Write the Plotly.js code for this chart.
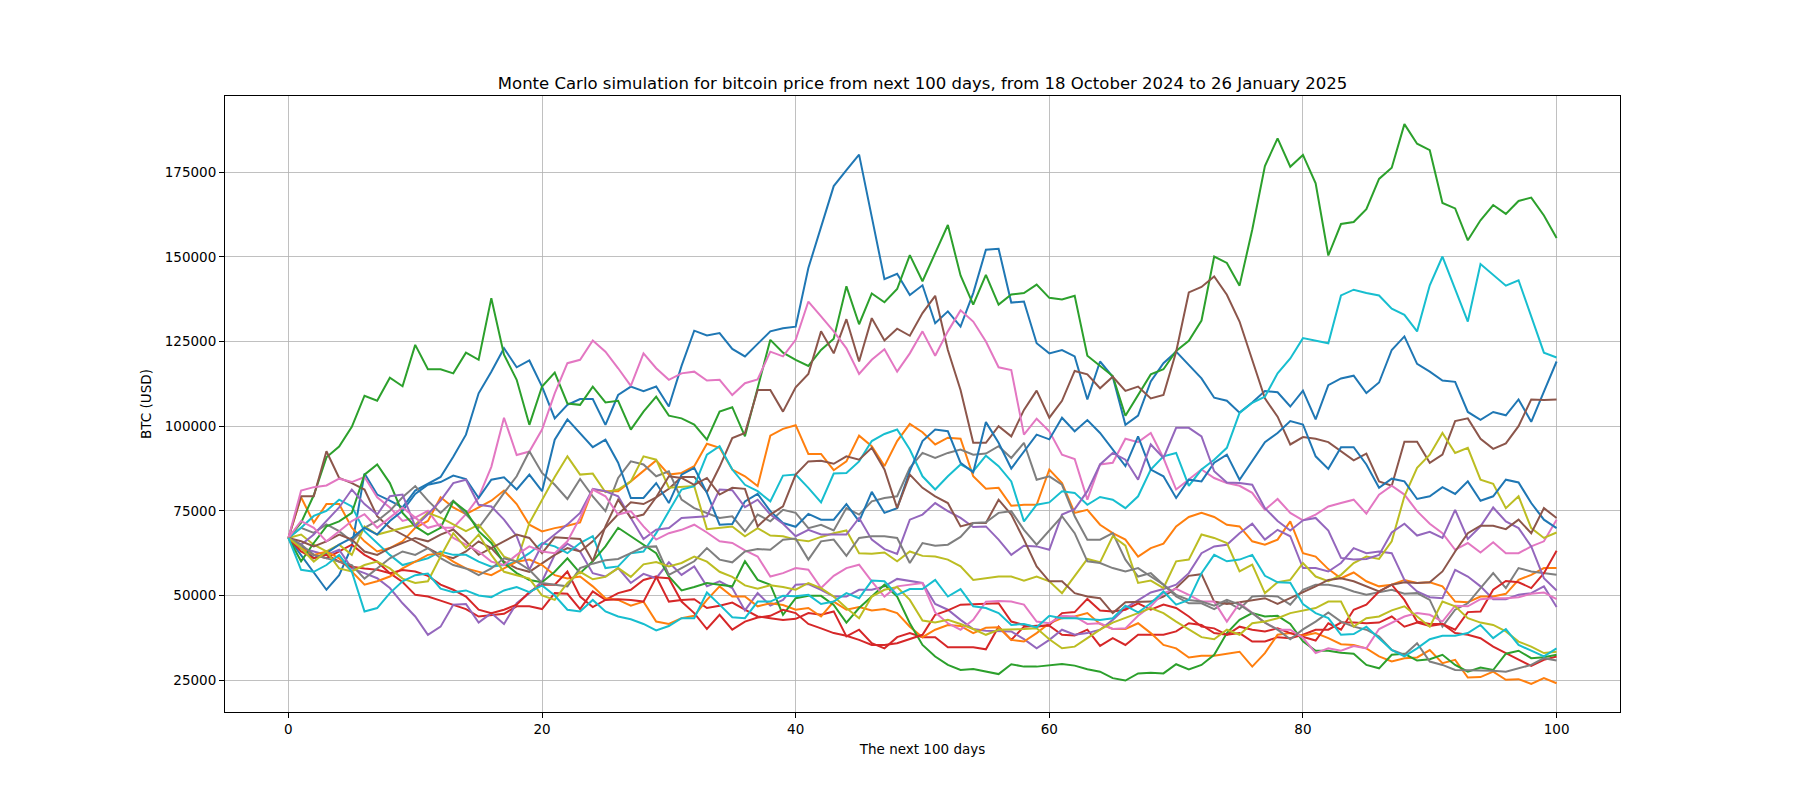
<!DOCTYPE html>
<html>
<head>
<meta charset="utf-8">
<script src="https://cdn.plot.ly/plotly-3.0.1.min.js"></script>
<style>html,body{margin:0;padding:0;background:#fff;}#chart{width:1800px;height:800px;}</style>
</head>
<body>
<div id="chart"></div>
<script>
// Days 0..100
const days = Array.from({length: 101}, (_, i) => i);

// Simulated price paths (USD)
const blue1 = [67000,62000,57000,51700,56000,64500,86000,79800,78000,76000,81000,83000,85000,91000,97500,
109700,116100,123000,117400,119400,111700,
102300,106300,108000,108000,100400,109200,111700,110300,111700,105800,117800,128200,126800,127500,122800,120600,124300,128000,128900,129400,
146700,158500,170900,175600,180200,161800,143400,145000,138700,141600,130400,133900,129400,139300,152100,152400,136500,136800,124500,121500,
122500,120600,107900,119100,114600,100400,103100,113200,118600,122000,118100,114100,108400,107500,104000,107000,110400,110000,105800,110500,
102000,112100,114100,114900,109800,112900,122500,126500,118400,116100,113500,113100,104200,101900,104200,103200,107900,101300,110200,119100];

const orange1 = [67000,79000,71500,77000,77000,70000,66000,63000,64000,66000,70000,72000,79000,76000,74000,76000,78000,81000,77000,70900,68900,
69900,70600,71600,81300,80800,80800,83700,86700,89900,85700,86200,88200,94800,93600,87200,85200,82300,97200,99200,100300,
91800,91800,87000,89600,97200,94100,88200,95600,100700,98200,94600,96600,96300,85200,81500,81800,76500,76800,76800,87200,
83200,74400,75300,70900,68400,66500,61500,64000,65300,70400,73200,74400,73200,70900,70400,66000,65000,66500,71900,62500,
61500,57800,55100,56800,54200,52700,53200,54600,53700,53900,52700,48200,48000,49700,49700,50500,54600,56100,58100,58100];

const green1 = [67000,71500,79600,90800,94000,99800,109000,107500,114300,111800,124000,116800,116800,115600,121700,119600,137800,121100,113700,100400,111700,
115800,106700,106300,111700,107000,107500,99000,104300,108700,103100,102300,100500,96000,104300,105600,97000,111000,125500,121700,119600,
117800,122500,125800,141300,130100,139200,136600,140500,150500,142800,151100,159400,144500,135900,144700,135900,138900,139300,141800,137900,
137400,138500,120800,117800,114800,103100,109200,115300,116800,122200,125200,131200,150100,148200,141500,158000,176800,185000,176600,180100,
171700,150400,159700,160300,164100,173000,176300,189200,183400,181500,165900,164300,154900,160800,165300,162700,166500,167500,162200,155600];

const red1 = [67000,64000,62000,61000,63000,65000,62000,60000,56600,54000,50200,49700,48500,47300,46000,43800,44300,44600,46800,46800,46000,
50700,50500,46000,51200,48700,50700,51700,54600,55600,48200,48700,48900,46300,47000,47900,45800,43800,43300,42800,43100,
44800,44300,45300,37900,39900,35900,34400,37700,38900,37700,37700,34700,34700,34700,34100,40800,36900,40800,41100,41100,
38400,38200,39900,35100,37400,35400,38400,38400,38400,39400,41800,41300,38900,38400,38900,36400,36400,37700,37400,38400,
39900,39900,42000,42000,41800,42000,43800,40800,42000,41000,41600,38900,38400,37400,34900,33000,31000,29200,31000,32000];

const purple1 = [67000,64000,63000,62000,63500,58000,56600,55100,52200,47700,43800,38400,40800,47300,47500,42000,44800,41600,47700,50700,54200,
62000,65300,63000,56600,55600,58100,53700,56400,55100,59800,56100,58600,52700,54200,52200,45600,50700,47000,48700,53200,
53400,51700,49700,49700,51700,51700,52700,54900,54200,53700,47500,45800,42800,40100,39600,39400,39400,37100,34400,36900,
39900,38400,38900,39900,42800,46300,48700,50900,51900,53200,56600,62500,64500,65000,68400,71200,66500,69400,67500,58100,
58100,57100,59600,64000,62500,63000,62500,54600,51200,49500,49200,57600,55600,52700,48900,48900,50200,50700,52700,46600];

const brown1 = [67000,79300,79300,92600,84700,83200,81300,73400,70000,68000,66000,64000,62000,61000,63000,66000,64000,60000,58000,57000,59500,
62000,64000,63000,66000,70000,74000,77500,77000,79000,81500,85000,85000,80500,88000,96500,98000,110700,110700,104300,111500,
115400,128000,121500,131600,119100,131900,125300,128800,126700,133400,138500,122500,110700,95100,95100,100000,97000,104800,110500,102500,
107500,116300,115300,111200,114600,110400,111700,108200,109200,122000,139500,141100,144200,138800,130900,119600,108200,102800,94600,96800,
96300,95300,92600,89900,91900,83700,82400,95400,95400,89200,91600,101500,102300,96300,93300,94900,100000,107900,107700,107900];

const pink1 = [67000,81000,82000,82500,84500,83500,85000,79000,76000,72000,73000,75000,70000,70000,74000,79000,88000,102500,91500,92500,99000,
109700,118600,119600,125300,122000,117100,111900,121500,117100,113700,115600,116100,113500,113700,109200,112700,113800,122000,120600,125500,
136800,132400,128000,123000,115400,119600,122700,116100,121500,128000,120800,128000,134200,130900,125000,117400,116600,97500,102200,98500,
91600,90300,78300,88700,89200,96300,95300,98000,90600,81300,84200,87200,84700,83200,82400,80300,75300,78500,74400,72200,
73900,76300,77300,78300,74200,79800,82400,79800,74900,71200,68400,63500,65500,62700,65700,62500,62500,64500,66000,72400];

const gray1 = [67000,70000,68500,71000,69000,66000,70000,72000,75000,79000,82300,78000,74400,78000,74000,70000,75000,80300,85200,92600,
86200,82700,78500,84400,79300,74900,84700,89600,88700,85200,86700,78300,75800,74400,72900,73400,68900,73900,71900,75300,74400,
69900,70900,69200,75800,73900,77800,78800,79300,87700,92100,90600,92100,93100,91600,91900,94100,90600,95100,84200,85200,
82700,73400,66500,66500,68400,60600,55600,56600,53200,49700,47700,47700,46000,48200,46000,49700,49900,49700,47300,51700,
53200,53200,52500,51200,50200,50900,51700,50500,50700,48700,40800,45800,47700,52200,56600,52200,58100,57100,56600,56100];

const olive1 = [67000,68000,65000,63000,65000,62000,70400,68000,69000,70000,70900,74400,73000,71000,69000,70900,66500,61500,60000,71400,78000,85000,
91100,85700,86000,80500,81300,83700,91100,90100,81800,82100,82300,69600,70100,70400,67500,69900,67700,67500,66500,
66000,67300,68400,69200,62500,62300,62700,60100,63000,61700,61500,60600,58600,54600,55100,55600,55600,54400,55600,54200,
50700,55600,60800,59800,67500,64700,53700,54400,52200,60100,60600,68000,67000,65500,57100,59100,50700,53900,54600,59600,
55600,54200,56100,59600,61500,60800,66000,79300,87700,91600,98000,92100,93600,84200,83000,75800,79300,69900,67000,68600];

const cyan1 = [67000,70000,73500,75000,78300,76300,69000,65500,62000,59000,60000,61000,63000,62000,62000,60000,58500,59000,60000,62500,65500,
64500,62500,65500,67500,58100,58600,62500,63000,68400,74900,81300,82300,91600,94100,87200,82700,80800,77800,85400,85700,
81800,77500,86000,86200,89600,95600,97700,99000,93100,85200,81300,85200,88700,86700,91300,88200,83700,71900,76800,77500,
80800,80300,76800,79100,78300,75800,79300,87200,91100,92100,82400,87200,90100,93600,103900,106900,108700,115600,120000,126000,
125200,124500,138600,140300,139300,138600,134700,132900,128000,141600,150100,140500,130900,147900,144700,141500,143100,132400,121700,120300];

const blue2 = [67000,65000,61000,62500,65000,67000,70000,68000,72000,75000,80000,82700,83500,85400,84400,78800,84200,84900,81300,
85700,80800,96000,102000,98000,93800,96000,89200,78800,78800,83200,77300,85700,87700,80300,70900,71100,77800,80000,74900,71400,70300,
74100,72400,72400,77000,71900,80600,74400,75800,86700,95600,99000,98500,89200,86400,101200,95100,87500,92600,97500,96100,
102500,98500,101800,98000,93100,88200,97000,87200,85200,78800,84200,83700,89200,91600,84200,89600,95300,98000,101500,100500,
91100,87400,93800,93800,88700,81800,84500,83700,78500,79300,82000,80000,83700,78000,79300,84200,83400,77300,72400,69900];

const orange2 = [67000,64000,62000,63000,61000,57000,53200,54200,55600,58000,60000,62000,62500,60000,58000,57000,56000,58000,60000,60600,59000,56000,55000,
55600,52700,49200,48700,47000,48200,42300,41600,43300,44000,48700,52700,49700,49700,46800,47700,47200,45800,
46300,43800,48200,45800,46600,45600,46000,44800,40800,37700,39900,41300,41000,38900,40500,40600,36900,36400,38900,41800,
43300,43800,44800,41600,40100,40100,41800,38900,35400,34400,31700,32200,32200,32800,33400,29000,33000,38400,38900,38100,
38900,37400,35600,35400,34400,32000,30500,31500,31700,33900,30000,31000,25800,25900,27500,25100,25300,23900,25600,24100];

const green2 = [67000,60100,65500,70400,71900,74400,85700,88700,83200,74400,70400,68000,70000,77800,74900,69000,65500,59600,56600,54600,53900,
57000,61000,56600,60100,64500,70000,67500,65000,62500,55600,51500,52500,53700,53200,52700,60100,54600,53200,44300,49200,
49900,49900,47200,42000,46300,49700,53200,49700,41800,35400,32000,29500,28000,28300,27500,26800,29700,29000,29000,29300,
29800,29300,28200,27500,25600,24900,27000,27200,27000,29700,28200,29500,32500,38900,42800,44800,43800,44000,41600,36500,
33700,33700,33100,32800,29500,28500,32500,32800,30800,31200,32500,29500,27500,28700,28000,32800,33700,31500,31800,32500];

const red2 = [67000,63000,61000,62000,60000,58500,58000,57600,56600,57500,57100,55800,53200,51700,49700,45800,44800,45800,47300,51000,53200,
53200,57100,49700,46600,48700,48900,48700,48200,55400,55100,48200,44800,40100,44300,39900,42300,43500,44000,45800,44800,
41600,40300,38900,38100,36900,35400,35400,35900,37100,38400,44300,45600,47300,47500,47500,47700,42300,41300,40800,41300,
44800,45100,49000,45600,45300,45800,47700,45800,47300,46300,43800,40800,40300,38400,40800,39900,39400,40300,38900,37700,
36700,41800,39900,45800,47300,51200,53200,48700,42300,41600,41600,39900,45100,45300,51700,54300,53900,52200,56600,63200];

const purple2 = [67000,65000,68000,72000,76000,81300,77000,73900,79300,79800,70400,74000,78000,83200,84200,76800,76300,72400,67500,57600,65000,
68000,71000,74400,81500,80800,79300,72900,66700,69400,69900,72900,73200,73400,81300,81100,76100,78300,73900,71200,67500,
69400,68000,68000,68000,72900,66500,63700,62300,72400,73900,77300,74900,72900,70200,70400,66500,62000,64700,64500,63500,
73900,75500,80800,88700,92100,90100,84200,94600,90600,99500,99500,97000,86700,83400,83200,82700,75800,72000,69200,72200,
72900,69200,61100,60600,60800,62000,68600,71200,67700,68800,67000,75300,66700,70400,76000,71900,69900,64500,55100,51500];

const brown2 = [67000,66000,64500,66000,68000,66500,63000,62000,64000,65500,67000,66000,68000,69500,66000,62000,64000,66000,68000,
67000,62500,67200,67000,66700,60100,70400,78300,72900,73900,79000,85200,84700,82700,84700,79800,81800,81500,70400,73900,76300,85700,
89600,89800,88900,91100,90100,93600,87200,75800,85700,81800,79300,77300,70400,71400,71400,78300,73900,66500,58600,54200,
54200,50700,49700,49200,44800,48000,48200,48200,49700,52200,55800,56300,48200,47500,48000,48700,49200,47500,49200,51000,
52700,54600,55100,54200,52700,51200,53200,53900,53700,53900,57100,63000,68400,70600,70600,69600,72400,68400,75800,72900];

const pink2 = [67000,72000,70000,66000,69000,72000,74000,70000,73000,76000,73000,70000,71000,67000,65000,63000,60000,59000,62000,64500,63000,62500,66000,73000,
81300,79300,73900,74900,70400,66500,68400,69400,70900,68600,66000,65500,63300,61500,55600,56600,58100,
57600,52200,55800,58100,59100,54200,49700,52700,53200,53700,45000,41800,39900,42800,48200,48400,48200,47300,42300,41800,
44000,43800,41600,41800,40100,40300,44000,46800,50700,52000,50200,48200,48200,42300,47700,44800,42000,39900,39900,37500,
33000,34400,33700,35100,34400,40100,42000,43800,44800,44300,42300,47000,46800,48900,49200,49200,49500,50500,50900,48900];

const gray2 = [67000,65000,62000,61000,60000,59000,55000,58000,61000,63000,62000,64000,61000,59000,58000,56000,58000,61000,60000,57600,
53700,53200,52700,58100,59400,60400,60800,62500,64300,64500,56100,58100,60100,64000,60600,59800,63000,63700,63500,66500,66800,
60600,66000,66500,61700,67000,67500,67500,67000,59600,65500,64700,65000,67300,71400,71600,74400,74900,69400,65000,69200,
73400,68400,60100,59600,58100,57100,58100,55600,53200,50200,48700,48200,47000,48700,47300,44800,42000,39900,37100,40000,
42300,45000,42300,40800,39900,37900,33900,32500,35900,30500,29500,28000,28000,28000,27800,27500,28500,29500,31500,30800];

const olive2 = [67000,64000,60000,63000,58000,57100,59000,60000,58000,55000,53700,54200,61500,68400,64000,68000,62000,57000,56000,55000,
50000,48700,53700,57000,54800,55500,58100,55500,59200,59900,58600,59600,61500,60000,57000,55500,53000,52000,53000,52500,51700,
53700,52200,49700,46300,43300,49700,51700,52500,48700,42600,42000,42800,41600,40100,38400,39900,39900,40100,40300,37100,
34400,34900,37400,39900,42000,43300,44800,46300,44800,42300,39900,37700,37100,39900,38400,41800,42300,43300,44800,45500,
46300,48200,48200,40800,43300,43800,45600,46800,43800,40800,48200,46800,43300,42000,41300,39400,36400,34900,33000,33400];

const cyan2 = [67000,57600,57000,59000,62000,57000,45300,46300,50700,54200,56000,56500,52000,51000,51500,50000,49500,51500,52500,51000,53000,50000,
45800,45300,48700,45300,43800,43000,41600,39700,41000,43300,43300,50900,47300,43600,43300,48200,48200,49900,49800,
50200,47500,48200,50700,49200,54400,54200,50200,51900,51900,54600,49700,51900,46800,46300,44800,41300,41600,40600,44000,
43300,43300,43000,42800,43300,47000,45000,47700,51200,47300,48700,56600,62000,60100,60600,62000,55800,53900,53800,47500,
44800,43300,38400,38600,40800,37400,33900,32000,34400,37100,38100,38100,38900,41300,37400,40100,35400,33700,32000,34400];

// Plot order follows the matplotlib default colour cycle (twice)
const seriesList = [blue1, orange1, green1, red1, purple1, brown1, pink1, gray1, olive1, cyan1,
                    blue2, orange2, green2, red2, purple2, brown2, pink2, gray2, olive2, cyan2];
const palette = ['#1f77b4','#ff7f0e','#2ca02c','#d62728','#9467bd','#8c564b','#e377c2','#7f7f7f','#bcbd22','#17becf'];

const yTicks = [25000, 50000, 75000, 100000, 125000, 150000, 175000];
const xTicks = [0, 20, 40, 60, 80, 100];

const traces = seriesList.map((ys, i) => ({
  x: days, y: ys, type: 'scatter', mode: 'lines',
  line: {color: palette[i % 10], width: 2},
  hoverinfo: 'skip', showlegend: false
}));

const FONT = 'DejaVu Sans, sans-serif';
const axisCommon = {
  showline: true, mirror: true, linecolor: '#000', linewidth: 1,
  ticks: 'outside', ticklen: 5, tickwidth: 1, tickcolor: '#000',
  showgrid: true, gridcolor: '#b0b0b0', gridwidth: 0.8,
  zeroline: false,
  tickfont: {family: FONT, size: 13.5, color: '#000'}
};

const layout = {
  width: 1800, height: 800,
  paper_bgcolor: '#fff', plot_bgcolor: '#fff',
  margin: {l: 225, r: 180, t: 96, b: 88, pad: 0},
  font: {family: FONT, color: '#000'},
  title: {
    text: 'Monte Carlo simulation for bitcoin price from next 100 days, from 18 October 2024 to 26 January 2025',
    font: {family: FONT, size: 16.5, color: '#000'},
    x: 0.5, xref: 'paper', xanchor: 'center',
    y: 1, yref: 'paper', yanchor: 'bottom', pad: {b: 7}
  },
  xaxis: Object.assign({}, axisCommon, {
    range: [-5, 105], tickvals: xTicks, ticktext: xTicks.map(String),
    title: {text: 'The next 100 days', font: {family: FONT, size: 13.5, color: '#000'}, standoff: 8}
  }),
  yaxis: Object.assign({}, axisCommon, {
    range: [15600, 197500], tickvals: yTicks, ticktext: yTicks.map(String),
    title: {text: 'BTC (USD)', font: {family: FONT, size: 13.5, color: '#000'}, standoff: 10}
  })
};

Plotly.newPlot('chart', traces, layout, {staticPlot: true, displayModeBar: false});
</script>
</body>
</html>
